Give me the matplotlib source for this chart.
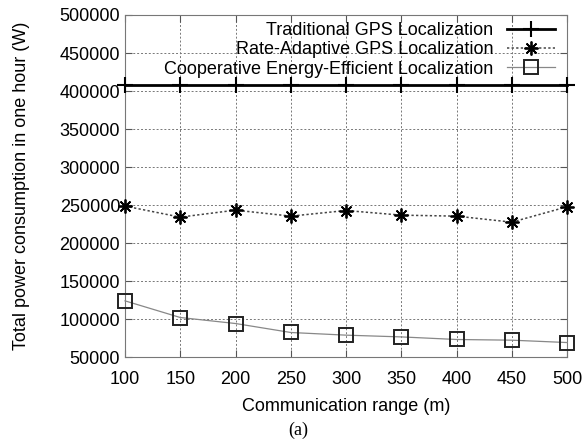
import matplotlib
matplotlib.use("Agg")
import matplotlib.pyplot as plt

plt.rcParams['font.family'] = ['Liberation Sans', 'DejaVu Sans']

# data
ranges = [100, 150, 200, 250, 300, 350, 400, 450, 500]
traditional = [408000] * 9
rate_adaptive = [248700, 234200, 243400, 235500, 242900, 236800, 235500, 227600, 247800]
cooperative = [124100, 102200, 94300, 82500, 79000, 76700, 73300, 72400, 69300]

fig = plt.figure(figsize=(5.87, 4.41), dpi=100)
ax = fig.add_axes([0.213, 0.19, 0.753, 0.776])

ax.plot(ranges, traditional, color='black', linewidth=2, marker='+', markersize=12,
        markeredgewidth=1.5, clip_on=False, zorder=5, label='Traditional GPS Localization')
ax.plot(ranges, rate_adaptive, color='#444444', linewidth=1.1, linestyle=(0, (1.5, 1.5)),
        marker=(8, 2, 0), markersize=10, markeredgewidth=1.3, markeredgecolor='black',
        clip_on=False, zorder=5, label='Rate-Adaptive GPS Localization')
ax.plot(ranges, cooperative, color='#888888', linewidth=0.9, marker='s', markersize=10,
        markerfacecolor='none', markeredgecolor='#222222', markeredgewidth=1.4,
        clip_on=False, zorder=5, label='Cooperative Energy-Efficient Localization')

ax.set_xlim(100, 500)
ax.set_ylim(50000, 500000)
ax.set_xticks(ranges)
ax.set_yticks(range(50000, 500001, 50000))
ax.tick_params(direction='in', top=True, right=True, labelsize=13, length=5, color='#555555')
ax.tick_params(axis='x', pad=10)
ax.grid(True, color='#777777', linestyle=(0, (2, 2)), linewidth=0.7)
for sp in ax.spines.values():
    sp.set_color('#777777')

ax.set_xlabel('Communication range (m)', fontsize=13, labelpad=7)
ax.set_ylabel('Total power consumption in one hour (W)', fontsize=13, labelpad=21)

leg = ax.legend(loc='upper right', frameon=False, markerfirst=False, fontsize=13,
                handlelength=2.7, borderaxespad=0.0, labelspacing=0.12, handletextpad=0.75,
                bbox_to_anchor=(0.99, 1.0))
for t in leg.get_texts():
    t.set_ha('right')
leg._legend_box.align = 'right'

fig.text(0.508, 0.025, '(a)', fontsize=13, family='Liberation Serif', ha='center', va='center')

fig.savefig('out.png', dpi=100)
